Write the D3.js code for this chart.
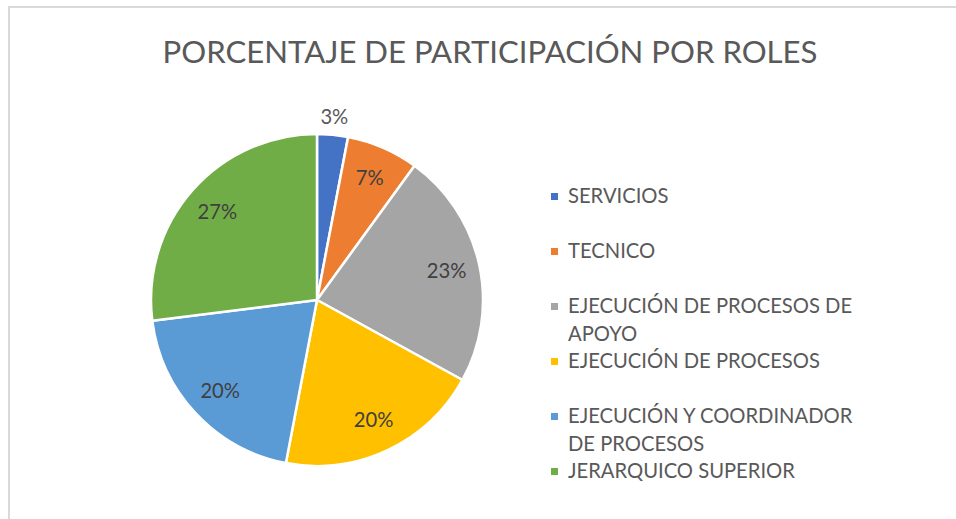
<!DOCTYPE html>
<html><head><meta charset="utf-8">
<script src="https://cdn.jsdelivr.net/npm/d3@7"></script>
<style>body{margin:0;background:#fff}</style></head>
<body>
<svg id="c" width="956" height="519"></svg>
<script>
const categories = ["SERVICIOS","TECNICO","EJECUCIÓN DE PROCESOS DE APOYO","EJECUCIÓN DE PROCESOS","EJECUCIÓN Y COORDINADOR DE PROCESOS","JERARQUICO SUPERIOR"];
const values = [3,7,23,20,20,27];
const colors = ["#4472C4","#ED7D31","#A5A5A5","#FFC000","#5B9BD5","#70AD47"];
const title = "PORCENTAJE DE PARTICIPACIÓN POR ROLES";

const svg = d3.select("#c");
const FONT = "Lato, 'Open Sans', sans-serif";

svg.append("rect").attr("x",9).attr("y",7).attr("width",980).attr("height",540)
  .attr("fill","#fff").attr("stroke","#d9d9d9").attr("stroke-width",2);

// title fitted to target width
const t = svg.append("text").attr("x",490).attr("y",63).attr("text-anchor","middle")
  .attr("font-family",FONT).attr("fill","#595959").attr("font-size",30).text(title);
const tw = t.node().getComputedTextLength();
t.attr("font-size", 30*655/tw);

const cx = 317, cy = 300, R = 166;
const pie = d3.pie().sort(null).value(d=>d);
const arcs = pie(values);
const arc = d3.arc().innerRadius(0).outerRadius(R);
const g = svg.append("g").attr("transform",`translate(${cx},${cy})`);
g.selectAll("path").data(arcs).join("path")
  .attr("d",arc).attr("fill",(d,i)=>colors[i])
  .attr("stroke","#fff").attr("stroke-width",2.5).attr("stroke-linejoin","round");

// legend font size fitted
const probe = svg.append("text").attr("font-family",FONT).attr("font-size",20).text("EJECUCIÓN DE PROCESOS");
const lfs = 20*252/probe.node().getComputedTextLength();
probe.remove();

const total = d3.sum(values);
const inArc = d3.arc().innerRadius(R*0.8).outerRadius(R*0.8);
const outArc = d3.arc().innerRadius(R*1.11).outerRadius(R*1.11);
g.selectAll("text.lbl").data(arcs).join("text").attr("class","lbl")
  .attr("transform",d=>{
    const small = d.value/total < 0.05;
    const p = (small?outArc:inArc).centroid(d);
    return `translate(${p[0]},${p[1]})`;
  })
  .attr("text-anchor","middle").attr("dy","0.35em")
  .attr("font-family",FONT).attr("font-size",lfs)
  .attr("fill",d=>d.value/total<0.05?"#595959":"#404040")
  .text(d=>Math.round(d.value/total*100)+"%");

// legend
const lx = 551, ly0 = 203, slot = 55, lineH = 28, maxW = 300;
const leg = svg.append("g");
categories.forEach((c,i)=>{
  const y = ly0 + i*slot;
  leg.append("rect").attr("x",lx).attr("y",y-10).attr("width",7).attr("height",7).attr("fill",colors[i]);
  const txt = leg.append("text").attr("x",lx+17).attr("y",y)
    .attr("font-family",FONT).attr("font-size",lfs).attr("fill","#595959");
  const words = c.split(" ");
  let line = [], ln = 0;
  let ts = txt.append("tspan").attr("x",lx+17).attr("y",y);
  words.forEach(w=>{
    line.push(w);
    ts.text(line.join(" "));
    if (ts.node().getComputedTextLength() > maxW && line.length>1){
      line.pop(); ts.text(line.join(" "));
      line=[w]; ln++;
      ts = txt.append("tspan").attr("x",lx+17).attr("y",y+ln*lineH).text(w);
    }
  });
});
</script>
</body></html>
